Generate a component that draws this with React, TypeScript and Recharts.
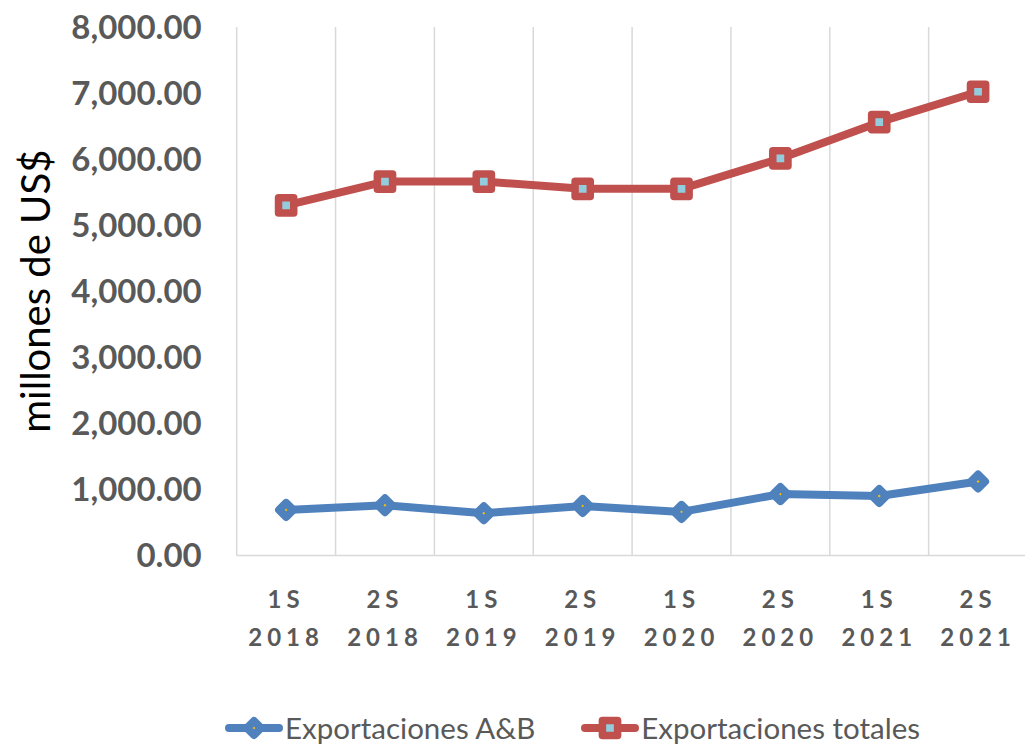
import React from 'react';
import { LineChart, Line, XAxis, YAxis, CartesianGrid, Legend } from 'recharts';

const periods = ['1S', '2S', '1S', '2S', '1S', '2S', '1S', '2S'];
const years = ['2018', '2018', '2019', '2019', '2020', '2020', '2021', '2021'];
const exportacionesAB = [690, 760, 640, 750, 660, 930, 900, 1120];
const exportacionesTotales = [5300, 5660, 5660, 5550, 5550, 6010, 6560, 7020];
const yTicks = [0, 1000, 2000, 3000, 4000, 5000, 6000, 7000, 8000];
const categoryBoundaries = [0, 1, 2, 3, 4, 5, 6, 7, 8];
const seriesNames = ['Exportaciones A&B', 'Exportaciones totales'];

const BLUE = '#4F81BD';
const RED = '#C0504D';
const YELLOW = '#FFC000';
const LIGHTBLUE = '#93CDDD';
const GRID = '#D9D9D9';
const TEXT = '#595959';
const FONT = 'Lato, "Open Sans", sans-serif';

const data = periods.map((p, i) => ({
  x: i + 0.5,
  label: `${p} ${years[i]}`,
  ab: exportacionesAB[i],
  total: exportacionesTotales[i],
}));

const fmt = (v: number) =>
  v.toLocaleString('en-US', { minimumFractionDigits: 2, maximumFractionDigits: 2 });

const Diamond = ({ cx, cy }: { cx: number; cy: number }) => {
  const r = 7;
  return (
    <path
      d={`M${cx},${cy - r} L${cx + r},${cy} L${cx},${cy + r} L${cx - r},${cy} Z`}
      fill={YELLOW}
      stroke={BLUE}
      strokeWidth={8}
      strokeLinejoin="round"
    />
  );
};

const Square = ({ cx, cy }: { cx: number; cy: number }) => {
  const s = 7.6;
  return (
    <rect
      x={cx - s}
      y={cy - s}
      width={2 * s}
      height={2 * s}
      fill={LIGHTBLUE}
      stroke={RED}
      strokeWidth={7.5}
      strokeLinejoin="round"
    />
  );
};

const renderDiamond = (props: any) => (
  <Diamond key={`d-${props.index}`} cx={props.cx} cy={props.cy} />
);
const renderSquare = (props: any) => (
  <Square key={`s-${props.index}`} cx={props.cx} cy={props.cy} />
);

const XTick = (props: any) => {
  const { x, y, payload } = props;
  const i = Math.floor(payload.value);
  const style = {
    fill: TEXT,
    fontSize: 24,
    fontWeight: 700,
    fontFamily: FONT,
    letterSpacing: 5,
  } as React.CSSProperties;
  return (
    <g transform={`translate(${x},${y})`}>
      <text x={0} y={50} textAnchor="middle" style={style}>
        {periods[i]}
      </text>
      <text x={0} y={88} textAnchor="middle" style={style}>
        {years[i]}
      </text>
    </g>
  );
};

const LegendIcon = ({ kind }: { kind: 'diamond' | 'square' }) => (
  <svg width={58} height={28} style={{ display: 'block' }}>
    <line
      x1={4}
      y1={14}
      x2={54}
      y2={14}
      stroke={kind === 'diamond' ? BLUE : RED}
      strokeWidth={8}
      strokeLinecap="round"
    />
    {kind === 'diamond' ? <Diamond cx={29} cy={14} /> : <Square cx={29} cy={14} />}
  </svg>
);

const LegendContent = () => (
  <div
    style={{
      height: 32,
      marginTop: 8,
      display: 'flex',
      alignItems: 'center',
      paddingLeft: 225,
      fontFamily: FONT,
      fontSize: 29.5,
      color: TEXT,
      lineHeight: 1,
    }}
  >
    <LegendIcon kind="diamond" />
    <span style={{ marginLeft: 2, marginRight: 46 }}>{seriesNames[0]}</span>
    <LegendIcon kind="square" />
    <span style={{ marginLeft: 2 }}>{seriesNames[1]}</span>
  </div>
);

const YLabel = (props: any) => {
  const { viewBox } = props;
  const cy = viewBox.y + viewBox.height / 2;
  const cx = 50;
  return (
    <text
      x={cx}
      y={cy}
      transform={`rotate(-90, ${cx}, ${cy})`}
      textAnchor="middle"
      style={{ fill: '#000', fontSize: 40, fontFamily: FONT }}
    >
      millones de US$
    </text>
  );
};

export default function App() {
  return (
    <div
      style={{
        position: 'fixed',
        left: 0,
        top: 0,
        width: 1025,
        height: 744,
        overflow: 'hidden',
        background: '#fff',
      }}
    >
      <LineChart
        width={1040}
        height={744}
        data={data}
        margin={{ top: 27, right: 12.5, left: 0, bottom: 0 }}
      >
        <CartesianGrid
          horizontal={false}
          vertical={true}
          verticalValues={categoryBoundaries}
          stroke={GRID}
          strokeWidth={1.5}
        />
        <XAxis
          dataKey="x"
          type="number"
          domain={[0, 8]}
          ticks={data.map((d) => d.x)}
          interval={0}
          height={148.5}
          tickSize={0}
          tickLine={false}
          axisLine={{ stroke: GRID, strokeWidth: 1.5 }}
          tick={<XTick />}
          allowDecimals
        />
        <YAxis
          type="number"
          domain={[0, 8000]}
          ticks={yTicks}
          interval={0}
          width={236.7}
          tickSize={0}
          tickMargin={35}
          tickLine={false}
          axisLine={false}
          tickFormatter={fmt}
          tick={{ fill: TEXT, fontSize: 33, fontWeight: 700, fontFamily: FONT }}
          label={<YLabel />}
        />
        <Legend verticalAlign="bottom" content={<LegendContent />} />
        <Line
          dataKey="ab"
          name={seriesNames[0]}
          stroke={BLUE}
          strokeWidth={8}
          strokeLinejoin="round"
          dot={renderDiamond}
          activeDot={false}
          isAnimationActive={false}
        />
        <Line
          dataKey="total"
          name={seriesNames[1]}
          stroke={RED}
          strokeWidth={8}
          strokeLinejoin="round"
          dot={renderSquare}
          activeDot={false}
          isAnimationActive={false}
        />
      </LineChart>
    </div>
  );
}
